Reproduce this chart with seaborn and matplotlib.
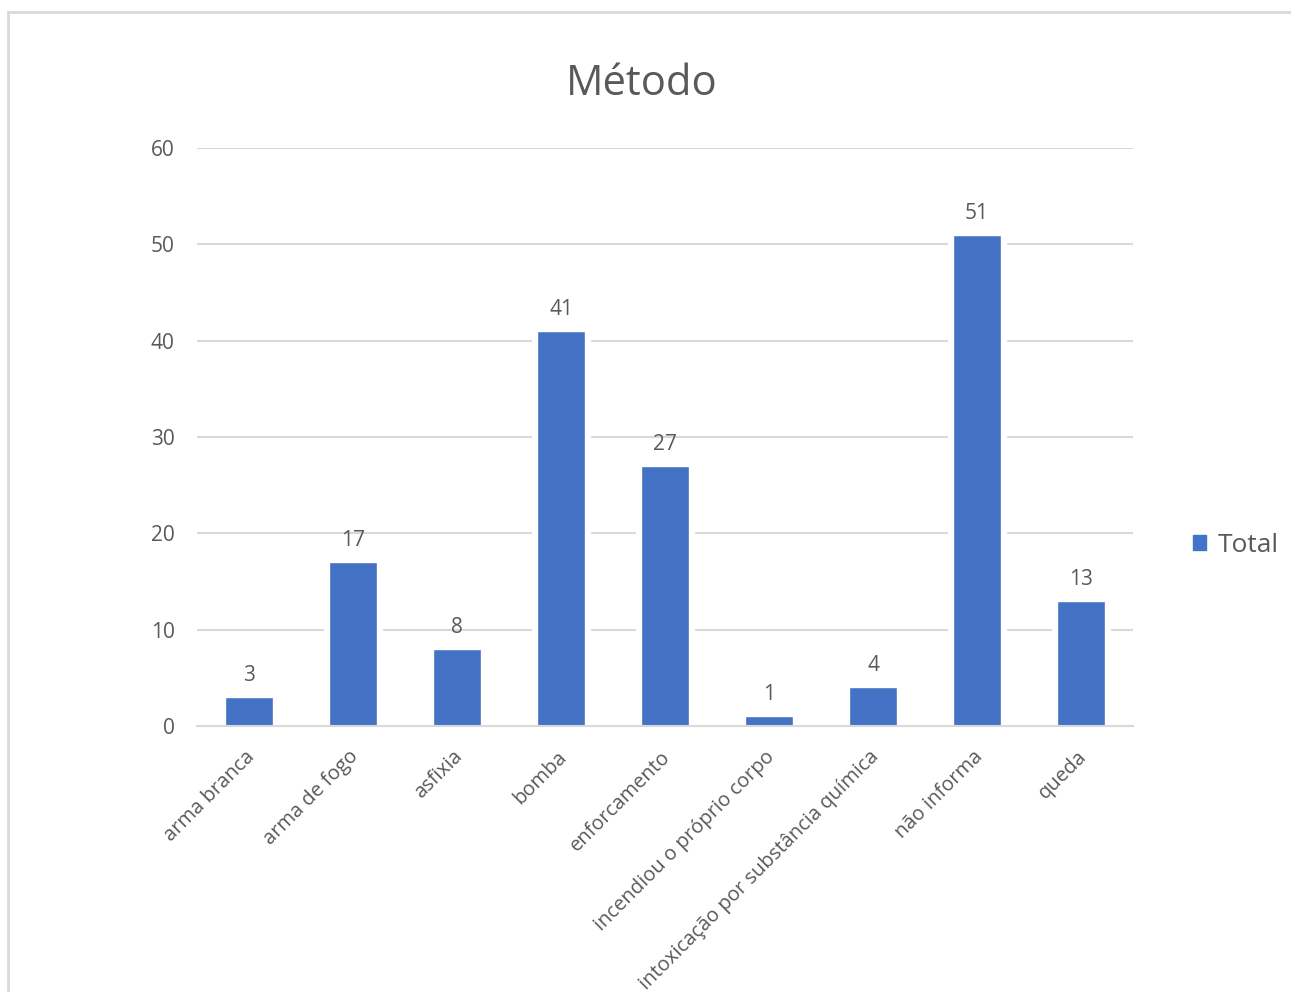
import numpy as np
import pandas as pd
import matplotlib
matplotlib.use('Agg')
import matplotlib.pyplot as plt
import matplotlib.patches as mpatches
import matplotlib.transforms as mtransforms
import seaborn as sns

categorias = ['arma branca', 'arma de fogo', 'asfixia', 'bomba', 'enforcamento',
              'incendiou o próprio corpo', 'intoxicação por substância química',
              'não informa', 'queda']
totais = [3, 17, 8, 41, 27, 1, 4, 51, 13]
yticks = [0, 10, 20, 30, 40, 50, 60]

azul = '#4472C4'
cinza_txt = '#595959'
cinza_lin = '#D9D9D9'

sns.set_style('white')
plt.rcParams['font.family'] = ['Open Sans', 'DejaVu Sans']

df = pd.DataFrame({'Metodo': categorias, 'Total': totais})

fig = plt.figure(figsize=(12.91, 9.92), dpi=100)
ax = fig.add_axes([197 / 1291, 1 - 726 / 992, (1133 - 197) / 1291, (726 - 148) / 992])

# white halo behind bars so gridlines stop short of them
sns.barplot(data=df, x='Metodo', y='Total', color='white', width=0.56,
            saturation=1, ax=ax, zorder=2)
sns.barplot(data=df, x='Metodo', y='Total', color=azul, width=0.465,
            saturation=1, ax=ax, zorder=3)

ax.set_ylim(0, 60)
ax.set_xlim(-0.5, len(categorias) - 0.5)
ax.set_yticks(yticks)
ax.yaxis.grid(True, color=cinza_lin, linewidth=1.5, zorder=1)
ax.set_axisbelow(True)
for s in ['left', 'right', 'top']:
    ax.spines[s].set_visible(False)
ax.spines['bottom'].set_color(cinza_lin)
ax.spines['bottom'].set_linewidth(1.5)
ax.spines['bottom'].set_zorder(4)

ax.tick_params(axis='y', length=0, pad=16, labelsize=15, labelcolor=cinza_txt)
ax.set_xticks(np.arange(len(categorias)))
ax.set_xticks(np.arange(-0.5, len(categorias), 1), minor=True)
ax.tick_params(axis='x', which='major', length=0, pad=15)
ax.tick_params(axis='x', which='minor', length=8, width=1.5, color=cinza_lin)
ax.set_xticklabels(categorias, rotation=45, ha='right', rotation_mode='anchor',
                   fontsize=14.5, color=cinza_txt)
off = mtransforms.ScaledTranslation(-3 / 72, 0, fig.dpi_scale_trans)
for lbl in ax.get_xticklabels():
    lbl.set_transform(lbl.get_transform() + off)
ax.set_xlabel('')
ax.set_ylabel('')

# data labels on the blue bars
ax.bar_label(ax.containers[1], labels=[str(v) for v in totais], padding=8,
             fontsize=15, color=cinza_txt)

fig.suptitle('Método', x=642 / 1291, y=1 - 84 / 992, va='center',
             fontsize=30, color=cinza_txt)

handle = mpatches.Patch(color=azul, label='Total')
fig.legend(handles=[handle], loc='center left', bbox_to_anchor=(1169 / 1291, 1 - 545 / 992),
           frameon=False, fontsize=19, handlelength=0.5, handleheight=0.5,
           handletextpad=0.45, labelcolor=cinza_txt)

# chart area border (cropped in the screenshot)
fig.patches.append(mpatches.Rectangle((8 / 1291, -0.05), 1.1, 1 - 12 / 992 + 0.05,
                                      transform=fig.transFigure, fill=False,
                                      edgecolor=cinza_lin, linewidth=2))

fig.savefig('out.png', dpi=100)
